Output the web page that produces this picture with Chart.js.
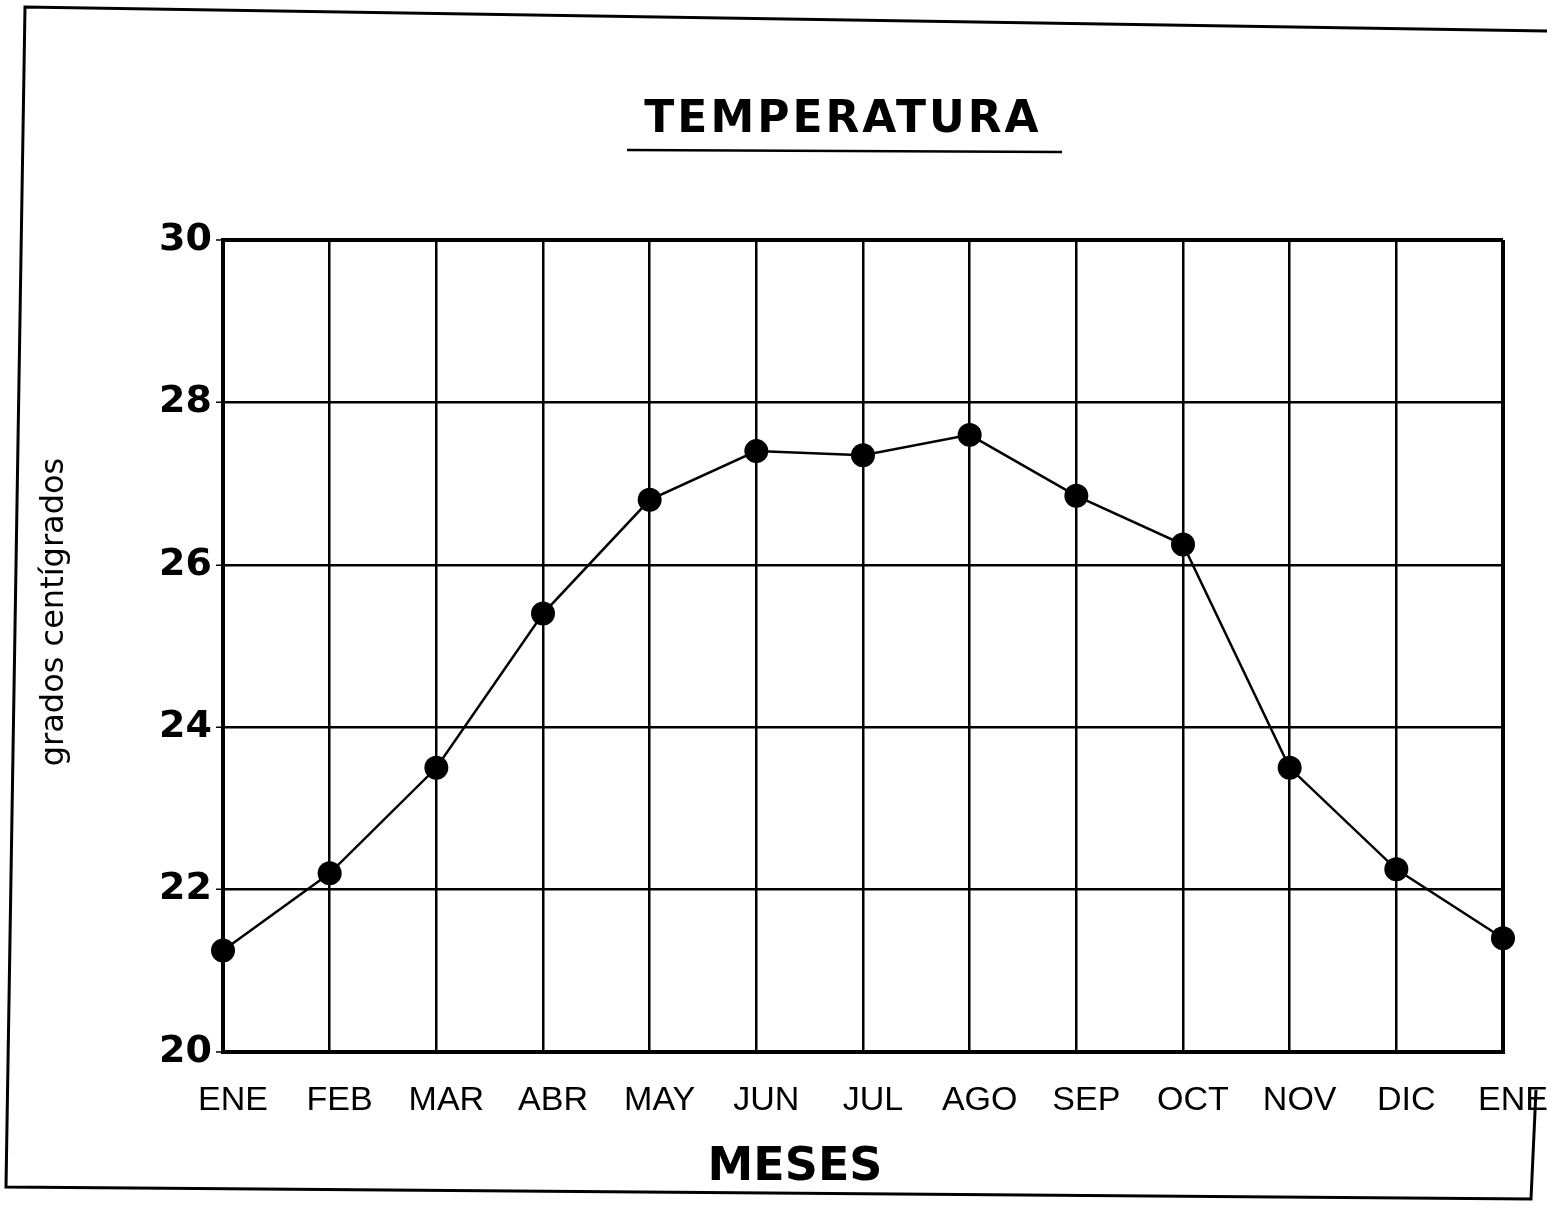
<!DOCTYPE html>
<html>
<head>
<meta charset="utf-8">
<script src="https://cdn.jsdelivr.net/npm/chart.js@4/dist/chart.umd.min.js"></script>
<style>
  html, body { margin: 0; padding: 0; background: #ffffff; }
  canvas { display: block; }
</style>
</head>
<body>
<canvas id="temp-chart" width="1547" height="1213"></canvas>
<script>
// Temperatura media mensual, de enero a enero
const months = ['ENE', 'FEB', 'MAR', 'ABR', 'MAY', 'JUN', 'JUL', 'AGO', 'SEP', 'OCT', 'NOV', 'DIC', 'ENE']
const temps = [21.25, 22.2, 23.5, 25.4, 26.8, 27.4, 27.35, 27.6, 26.85, 26.25, 23.5, 22.25, 21.4]

const tempMin = 20
const tempMax = 30
const tempStep = 2

const chartTitle = 'TEMPERATURA'
const xTitle = 'MESES'
const yTitle = 'grados centígrados'

const ink = '#000000'

// Textos, subrayado del titulo y marco de la hoja
const lettering = {
  id: 'lettering',
  afterDraw(chart) {
    const ctx = chart.ctx
    ctx.save()
    ctx.fillStyle = ink
    ctx.strokeStyle = ink
    ctx.textAlign = 'center'
    ctx.textBaseline = 'middle'

    ctx.font = '600 44px "DejaVu Sans", sans-serif'
    ctx.letterSpacing = '3px'
    ctx.fillText(chartTitle, 843, 121)
    ctx.lineWidth = 2.5
    ctx.beginPath()
    ctx.moveTo(627, 150)
    ctx.lineTo(1062, 152)
    ctx.stroke()

    ctx.letterSpacing = '0px'
    ctx.font = '600 46px "DejaVu Sans", sans-serif'
    ctx.fillText(xTitle, 795, 1168)

    ctx.save()
    ctx.translate(55, 612)
    ctx.rotate(-Math.PI / 2)
    ctx.font = '32px "DejaVu Sans", sans-serif'
    ctx.fillText(yTitle, 0, 0)
    ctx.restore()

    ctx.lineWidth = 3
    ctx.beginPath()
    ctx.moveTo(1547, 31)
    ctx.lineTo(25, 7)
    ctx.lineTo(6, 1187)
    ctx.lineTo(1531, 1199)
    ctx.lineTo(1536, 1090)
    ctx.stroke()
    ctx.restore()
  }
}

const edgeWidth = (isEdge) => isEdge ? 4 : 2.5

new Chart(document.getElementById('temp-chart'), {
  type: 'line',
  data: {
    labels: months,
    datasets: [{
      data: temps,
      borderColor: ink,
      borderWidth: 2.5,
      backgroundColor: ink,
      pointBackgroundColor: ink,
      pointBorderColor: ink,
      pointRadius: 12,
      pointBorderWidth: 0,
      tension: 0,
      fill: false,
      clip: false
    }]
  },
  options: {
    responsive: false,
    animation: false,
    events: [],
    layout: {
      padding: { top: 240, right: 44, left: 0, bottom: 0 }
    },
    plugins: {
      legend: { display: false },
      title: { display: false },
      tooltip: { enabled: false }
    },
    scales: {
      x: {
        offset: false,
        afterFit(scale) {
          scale.height = 161
          scale.paddingLeft = 0
          scale.paddingRight = 0
        },
        border: { display: true, color: ink, width: 4 },
        grid: {
          color: ink,
          lineWidth: (ctx) => edgeWidth(ctx.index === 0 || ctx.index === months.length - 1),
          drawTicks: false
        },
        ticks: {
          color: ink,
          autoSkip: false,
          maxRotation: 0,
          padding: 28,
          labelOffset: 10,
          font: { family: '"Liberation Sans Narrow", "Arial Narrow", "Liberation Sans", sans-serif', size: 34 }
        }
      },
      y: {
        min: tempMin,
        max: tempMax,
        afterFit(scale) {
          scale.width = 223
          scale.paddingTop = 0
          scale.paddingBottom = 0
        },
        border: { display: true, color: ink, width: 4 },
        grid: {
          color: ink,
          lineWidth: (ctx) => edgeWidth(ctx.tick && (ctx.tick.value === tempMin || ctx.tick.value === tempMax)),
          tickLength: 7,
          tickWidth: 1.5,
          tickColor: ink
        },
        ticks: {
          stepSize: tempStep,
          color: ink,
          padding: 4,
          font: { family: '"DejaVu Sans", sans-serif', size: 38, weight: 'bold' }
        }
      }
    }
  },
  plugins: [lettering]
})
</script>
</body>
</html>
